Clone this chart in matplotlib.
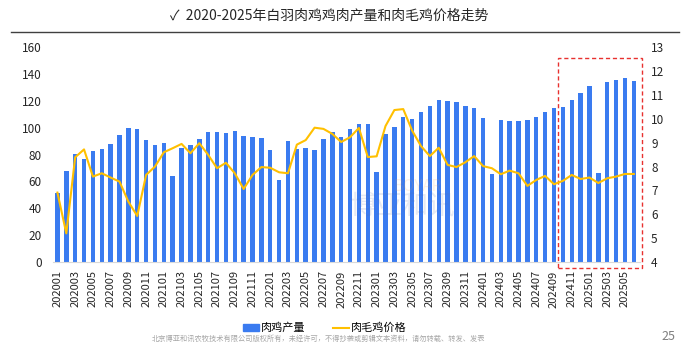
import matplotlib
matplotlib.use("Agg")
import matplotlib.pyplot as plt
from matplotlib.lines import Line2D
from matplotlib.patches import Rectangle, Patch
import numpy as np

plt.rcParams['font.family'] = ['Noto Sans CJK SC', 'DejaVu Sans']

months = [f"{y}{m:02d}" for y in range(2020, 2026) for m in range(1, 13)][:66]

production = [51.2, 67.8, 80.5, 76.8, 83.0, 84.2, 87.9, 94.4, 99.9, 98.9, 90.7, 87.4,
              88.7, 64.3, 85.0, 86.9, 91.9, 96.9, 96.9, 96.1, 97.6, 93.9, 93.2, 92.4,
              83.7, 61.1, 90.2, 84.5, 85.0, 83.2, 91.4, 96.9, 93.2, 98.9, 102.6, 103.1,
              67.3, 95.4, 100.6, 108.1, 106.8, 111.5, 116.3, 120.7, 120.0, 119.0, 116.3, 114.5,
              107.1, 65.6, 105.8, 105.1, 105.1, 105.8, 107.8, 112.0, 115.0, 115.5, 120.7, 125.9,
              131.4, 66.1, 134.4, 135.6, 136.9, 135.1]

price = [6.91, 5.20, 8.39, 8.72, 7.58, 7.72, 7.54, 7.37, 6.53, 5.93, 7.65, 8.00,
         8.60, 8.77, 8.95, 8.56, 8.98, 8.49, 7.93, 8.16, 7.72, 7.06, 7.65, 7.98,
         7.95, 7.76, 7.72, 8.92, 9.11, 9.63, 9.58, 9.37, 9.03, 9.23, 9.62, 8.40,
         8.43, 9.70, 10.37, 10.41, 9.51, 8.86, 8.44, 8.79, 8.07, 7.98, 8.18, 8.44,
         8.02, 7.93, 7.68, 7.83, 7.72, 7.19, 7.44, 7.61, 7.26, 7.40, 7.65, 7.48,
         7.54, 7.31, 7.51, 7.58, 7.69, 7.69]

tick_labels = months[::2]

bar_color = '#3A7BF0'
line_color = '#FFC000'

fig = plt.figure(figsize=(6.99, 3.54), dpi=100)
ax = fig.add_axes([53/699, 1-262/354, (640-53)/699, (262-47.3)/354])
x = np.arange(len(months))
ax.bar(x, production, width=0.5, color=bar_color, zorder=2)
ax.set_ylim(0, 160)
ax.set_yticks(range(0, 161, 20))
ax.set_xlim(-0.5, 65.7)
ax.set_xticks(x[::2])
ax.set_xticklabels(tick_labels, rotation=90, fontsize=8, color='#262626')
ax.tick_params(axis='both', length=0, colors='#262626')
ax.tick_params(axis='y', labelsize=8.5, pad=8)
ax.tick_params(axis='x', pad=6)
for s in ['left', 'right', 'top']:
    ax.spines[s].set_visible(False)
ax.spines['bottom'].set_color('#D9D9D9')

ax2 = ax.twinx()
ax2.plot(x, price, color=line_color, lw=1.5, zorder=3)
ax2.set_ylim(4, 13)
ax2.set_yticks(range(4, 14))
ax2.tick_params(axis='y', length=0, labelsize=8.5, colors='#262626', pad=8)
for s in ['left', 'right', 'top', 'bottom']:
    ax2.spines[s].set_visible(False)

# highlight box
ax.add_patch(Rectangle((56.4, -4.2), 9.5, 156, fill=False, ec='#E8312F', ls=(0, (3, 2)),
                       lw=1.0, clip_on=False, zorder=5))

# watermark
fig.text(403/699, 1-207/354, '博亚和讯', fontsize=19, color='#5A6FA8', alpha=0.15,
         ha='center', va='center')
fig.text(418/699, 1-186/354, 'BOYAR', fontsize=11, color='#F0A050', alpha=0.15,
         ha='center', va='center')

# title and top rule
fig.text(170/699, 1-15/354, '✓  2020-2025年白羽肉鸡鸡肉产量和肉毛鸡价格走势', fontsize=10,
         ha='left', va='center', color='#262626',
         family=['Noto Sans CJK SC', 'DejaVu Sans'])
fig.add_artist(Line2D([11/699, 679/699], [1-31.5/354, 1-31.5/354], color='#404040', lw=1))

handles = [Patch(color=bar_color), Line2D([0], [0], color=line_color, lw=1.5)]
fig.legend(handles, ['肉鸡产量', '肉毛鸡价格'], loc='center', bbox_to_anchor=(0.465, 1-328/354),
           ncol=2, frameon=False, fontsize=8, handlelength=1.4, handleheight=0.6,
           columnspacing=2.5, handletextpad=0.2)

fig.text(0.455, 1-339/354, '北京博亚和讯农牧技术有限公司版权所有，未经许可，不得抄袭或剪辑文本资料，请勿转载、转发、发表',
         fontsize=5.2, color='#A6A6A6', ha='center', va='center')
fig.text(668/699, 1-336/354, '25', fontsize=9, color='#7F7F7F', ha='center', va='center')

fig.savefig('out.png', dpi=100)
